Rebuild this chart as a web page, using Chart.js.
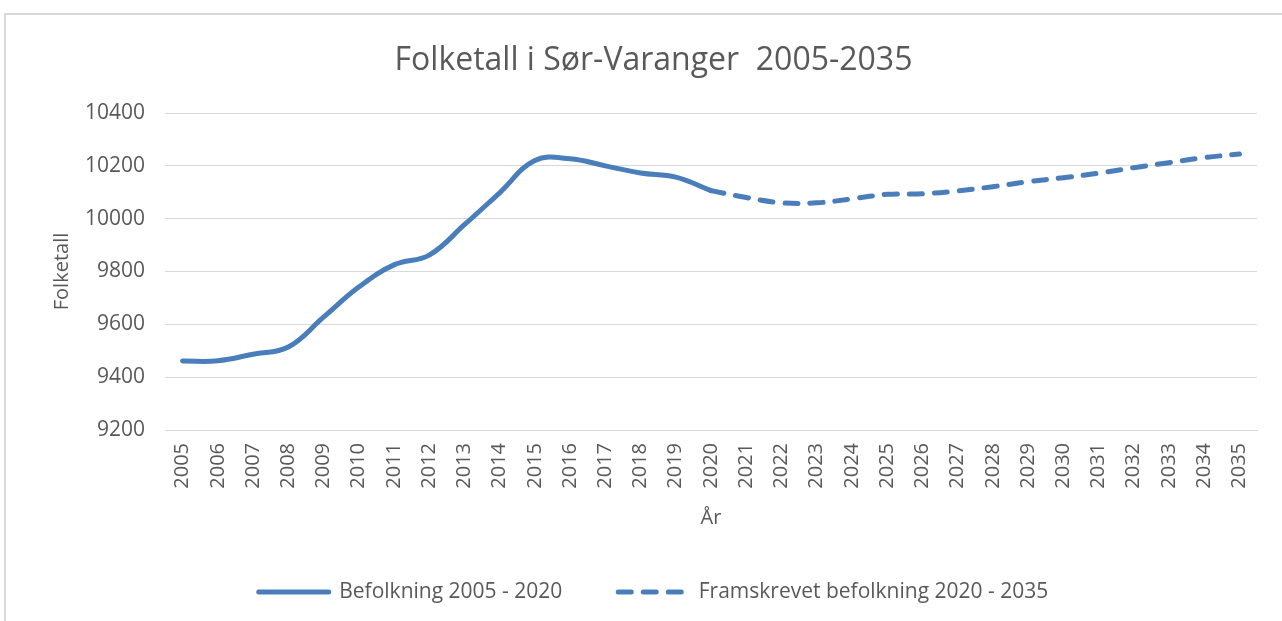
<!DOCTYPE html>
<html>
<head>
<meta charset="utf-8">
<script src="https://cdn.jsdelivr.net/npm/chart.js@4.4.0/dist/chart.umd.min.js"></script>
<style>
  html, body { margin: 0; padding: 0; background: #fff; overflow: hidden; }
  #frame { position: absolute; left: 4px; top: 13px; width: 1400px; height: 800px; border: 2px solid #d9d9d9; }
  #wrap { position: absolute; left: 0; top: 0; width: 1282px; height: 621px; }
</style>
</head>
<body>
<div id="frame"></div>
<div id="wrap"><canvas id="myChart"></canvas></div>
<script>
// years on the x axis
var years = ["2005", "2006", "2007", "2008", "2009", "2010", "2011", "2012", "2013", "2014",
             "2015", "2016", "2017", "2018", "2019", "2020", "2021", "2022", "2023", "2024",
             "2025", "2026", "2027", "2028", "2029", "2030", "2031", "2032", "2033", "2034", "2035"];

// registered population 2005 - 2020
var befolkning = [9461, 9462, 9487, 9514, 9627, 9741, 9825, 9862, 9977, 10098,
                  10220, 10227, 10200, 10173, 10157, 10106,
                  null, null, null, null, null, null, null, null, null, null, null, null, null, null, null];

// projection 2020 - 2035
var framskrevet = [null, null, null, null, null, null, null, null, null, null, null, null, null, null, null,
                   10106, 10080, 10060, 10060, 10075, 10092, 10094, 10105, 10121, 10140,
                   10155, 10172, 10193, 10212, 10231, 10245];

var yTicks = [9200, 9400, 9600, 9800, 10000, 10200, 10400];

var blue = "#4a7ebb";
var grey = "#595959";
var font = "'Open Sans', 'Noto Sans', sans-serif";

var ctx = document.getElementById('myChart').getContext('2d');
var chart = new Chart(ctx, {
    type: 'line',
    data: {
        labels: years,
        datasets: [{
            label: "Befolkning 2005 - 2020",
            data: befolkning,
            borderColor: blue,
            backgroundColor: blue,
            borderWidth: 5,
            borderCapStyle: 'round',
            pointRadius: 0,
            tension: 0.4,
            fill: false
        }, {
            label: "Framskrevet befolkning 2020 - 2035",
            data: framskrevet,
            borderColor: blue,
            backgroundColor: blue,
            borderWidth: 5,
            borderCapStyle: 'round',
            borderDash: [13, 12],
            pointRadius: 0,
            tension: 0.4,
            fill: false
        }]
    },
    options: {
        responsive: true,
        maintainAspectRatio: false,
        animation: false,
        layout: { padding: { left: 50, right: 25, top: 0, bottom: 8.5 } },
        plugins: {
            title: {
                display: true,
                text: "Folketall i Sør-Varanger  2005-2035",
                color: grey,
                font: { family: font, size: 32, weight: 'normal' },
                padding: { top: 42, bottom: 32.6 }
            },
            legend: {
                position: 'bottom',
                labels: {
                    usePointStyle: true,
                    pointStyle: 'line',
                    pointStyleWidth: 70,
                    color: grey,
                    padding: 56,
                    font: { family: font, size: 21 },
                    generateLabels: function (chart) {
                        var items = Chart.defaults.plugins.legend.labels.generateLabels(chart);
                        items.forEach(function (item) {
                            var ds = chart.data.datasets[item.datasetIndex];
                            item.lineDash = ds.borderDash || [];
                            item.lineCap = 'round';
                            item.lineWidth = 5;
                            item.strokeStyle = blue;
                        });
                        return items;
                    }
                }
            },
            tooltip: { enabled: false }
        },
        scales: {
            x: {
                offset: true,
                grid: { display: false, drawTicks: false },
                border: { color: '#d9d9d9', width: 1 },
                ticks: {
                    color: grey,
                    minRotation: 90,
                    maxRotation: 90,
                    autoSkip: false,
                    padding: 13,
                    font: { family: font, size: 20 }
                },
                title: {
                    display: true,
                    text: "År",
                    color: grey,
                    font: { family: font, size: 20 },
                    padding: { top: 0, bottom: -4.5 }
                },
                afterFit: function (scale) { scale.height = 95.5; }
            },
            y: {
                min: 9200,
                max: 10400,
                grid: { color: '#d9d9d9', drawTicks: false },
                border: { display: false },
                afterBuildTicks: function (scale) {
                    scale.ticks = yTicks.map(function (v) { return { value: v }; });
                },
                ticks: {
                    color: grey,
                    padding: 20,
                    font: { family: font, size: 21 },
                    callback: function (value) { return String(value); }
                },
                title: {
                    display: true,
                    text: "Folketall",
                    color: grey,
                    font: { family: font, size: 20 },
                    padding: { top: 0, bottom: 0 }
                },
                afterFit: function (scale) { scale.width = 115; }
            }
        }
    }
});
</script>
</body>
</html>
